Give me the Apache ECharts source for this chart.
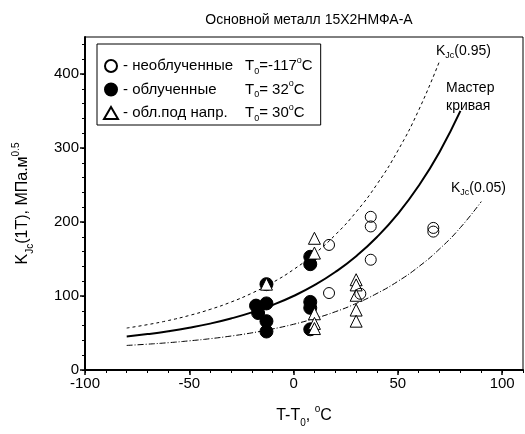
<!DOCTYPE html>
<html>
<head>
<meta charset="utf-8">
<script src="https://cdn.jsdelivr.net/npm/echarts@6/dist/echarts.min.js"></script>
<style>html,body{margin:0;padding:0;background:#fff;}#c{width:525px;height:434px;}</style>
</head>
<body>
<div id="c"></div>
<script>
// Curves
const curveT  = [-80,-70,-60,-50,-40,-30,-20,-10,0,10,20,30,40,50,60,70,80,90];
const kMedian = [45.3,48.5,52.4,57.1,62.7,69.6,77.9,87.9,100,114.6,132.4,153.8,179.7,211,248.9,294.7,350.1,null];
const k95     = [56.7,61.3,66.9,73.7,81.9,91.8,103.8,118.3,135.8,157,182.6,213.6,251.1,296.4,351.2,417.5,null,null];
const k05     = [33.2,34.9,36.9,39.4,42.3,45.9,50.2,55.5,61.8,69.5,78.7,89.9,103.5,119.8,139.6,163.6,192.5,227.6];

// Data points: [T-T0, KJc]
const unirradiated = [[17,169],[37,207],[37,194],[37,149],[17,104],[32,103],[67,192],[67,187]];
const irradiated = [[-18,87],[-13,90],[-17,77],[-13,66],[-13,52],[-13,116],[8,153],[8,143],[8,92],[8,84],[8,55]];
const stressed = [[-13,116],[10,178],[10,158],[10,76],[10,63],[10,56],[30,122],[30,115],[30,101],[30,81],[30,66]];

const xMajor = [-100,-50,0,50,100];
const yMajor = [0,100,200,300,400];
const xMinor = [-100,-90,-80,-70,-60,-50,-40,-30,-20,-10,0,10,20,30,40,50,60,70,80,90,100,110];
const yMinor = [0,20,40,60,80,100,120,140,160,180,200,220,240,260,280,300,320,340,360,380,400,420,440];

const FF = 'Liberation Sans, Arial, sans-serif';
function pairs(xs, ys){ const r=[]; xs.forEach((x,i)=>{ if(ys[i]!=null) r.push([x,ys[i]]); }); return r; }

const subRich = {
  b:{fontFamily:FF,fontSize:15,color:'#000',lineHeight:20},
  sub:{fontFamily:FF,fontSize:9,color:'#000',lineHeight:9,verticalAlign:'bottom'},
  sup:{fontFamily:FF,fontSize:9,color:'#000',lineHeight:9,verticalAlign:'top'},
  n:{fontFamily:FF,fontSize:15,color:'#000',lineHeight:20,width:122}
};
const labRich = {
  b:{fontFamily:FF,fontSize:14,color:'#000',lineHeight:18},
  sub:{fontFamily:FF,fontSize:9,color:'#000',lineHeight:9,verticalAlign:'bottom'}
};
const nameRich = {
  b:{fontFamily:FF,fontSize:16,color:'#000',lineHeight:24},
  sub:{fontFamily:FF,fontSize:10,color:'#000',lineHeight:12,verticalAlign:'bottom'},
  sup:{fontFamily:FF,fontSize:10,color:'#000',lineHeight:12,verticalAlign:'top'}
};

const chart = echarts.init(document.getElementById('c'), null, {renderer:'canvas'});
const legendText = {
  'необлученные':'{n|- необлученные }{b|T}{sub|0}{b|=-117}{sup|o}{b|C}',
  'облученные':'{n|- облученные }{b|T}{sub|0}{b|= 32}{sup|o}{b|C}',
  'обл.под напр.':'{n|- обл.под напр.}{b|T}{sub|0}{b|= 30}{sup|o}{b|C}'
};
chart.setOption({
  animation:false,
  backgroundColor:'#fff',
  title:{text:'Основной металл 15Х2НМФА-А',left:304,top:8,textAlign:'center',
    textStyle:{fontFamily:FF,fontSize:14,fontWeight:'normal',color:'#000'}},
  grid:{left:85,right:2,top:37,bottom:64,show:true,borderColor:'#000',borderWidth:1,backgroundColor:'transparent'},
  legend:{
    orient:'vertical',left:97,top:44,
    data:['необлученные','облученные','обл.под напр.'],
    borderColor:'#000',borderWidth:1,padding:[12,8,2,6],itemGap:3.5,
    itemWidth:14,itemHeight:12,
    formatter:(n)=>legendText[n],
    textStyle:{rich:subRich,fontFamily:FF,fontSize:15,color:'#000'}
  },
  xAxis:[{
    type:'value',min:-100,max:110,position:'bottom',
    name:'{b|T-T}{sub|0}{b|, }{sup|o}{b|C}',nameLocation:'middle',nameGap:34,
    nameTextStyle:{rich:nameRich},
    axisLine:{onZero:false,lineStyle:{color:'#000',width:2}},
    axisTick:{customValues:xMajor,inside:false,length:5,lineStyle:{color:'#000',width:1.5}},
    axisLabel:{customValues:xMajor,color:'#000',fontFamily:FF,fontSize:15,margin:6},
    splitLine:{show:false}
  },{
    type:'value',min:-100,max:110,position:'bottom',
    axisLine:{show:false,onZero:false},
    axisTick:{customValues:xMinor,inside:false,length:3,lineStyle:{color:'#000',width:1}},
    axisLabel:{show:false},splitLine:{show:false}
  }],
  yAxis:[{
    type:'value',min:0,max:450,position:'left',
    name:'{b|K}{sub|Jc}{b|(1T), МПа.м}{sup|0.5}',nameLocation:'middle',nameGap:50,nameRotate:90,
    nameTextStyle:{rich:nameRich},
    axisLine:{onZero:false,lineStyle:{color:'#000',width:2}},
    axisTick:{customValues:yMajor,inside:false,length:5,lineStyle:{color:'#000',width:1.5}},
    axisLabel:{customValues:yMajor,color:'#000',fontFamily:FF,fontSize:15,margin:6},
    splitLine:{show:false}
  },{
    type:'value',min:0,max:450,position:'left',
    axisLine:{show:false,onZero:false},
    axisTick:{customValues:yMinor,inside:false,length:3,lineStyle:{color:'#000',width:1}},
    axisLabel:{show:false},splitLine:{show:false}
  }],
  series:[
    {type:'line',data:pairs(curveT,k95),smooth:true,showSymbol:false,silent:true,
      lineStyle:{color:'#000',width:1,type:[3,3]},z:1},
    {type:'line',data:pairs(curveT,kMedian),smooth:true,showSymbol:false,silent:true,
      lineStyle:{color:'#000',width:2},z:1},
    {type:'line',data:pairs(curveT,k05),smooth:true,showSymbol:false,silent:true,
      lineStyle:{color:'#000',width:1,type:[6,2,1,2]},z:1},
    {name:'облученные',type:'scatter',data:irradiated,symbol:'circle',symbolSize:13,
      itemStyle:{color:'#000',borderColor:'#000',borderWidth:1,opacity:1},z:3},
    {name:'обл.под напр.',type:'scatter',data:stressed,symbol:'triangle',symbolSize:12,
      itemStyle:{color:'#fff',borderColor:'#000',borderWidth:1,opacity:1},z:4},
    {name:'необлученные',type:'scatter',data:unirradiated,symbol:'circle',symbolSize:11,
      itemStyle:{color:'rgba(255,255,255,0)',borderColor:'#000',borderWidth:1,opacity:1},z:5}
  ],
  graphic:[
    {type:'text',left:436,top:44,style:{text:'{b|K}{sub|Jc}{b|(0.95)}',rich:labRich}},
    {type:'text',left:446,top:79,style:{text:'Мастер\nкривая',fontFamily:FF,fontSize:14,lineHeight:18,fill:'#000'}},
    {type:'text',left:451,top:181,style:{text:'{b|K}{sub|Jc}{b|(0.05)}',rich:labRich}}
  ]
});
</script>
</body>
</html>
